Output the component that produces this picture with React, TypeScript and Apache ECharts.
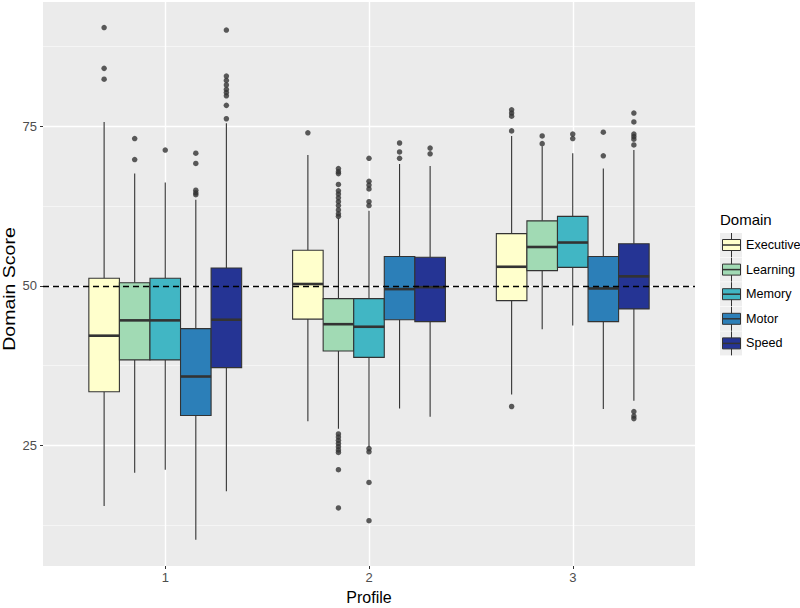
import React, { useEffect, useRef } from "react";
import * as echarts from "echarts";

const profiles = ["1", "2", "3"];
const domains = ["Executive", "Learning", "Memory", "Motor", "Speed"];
const domainColors = ["#FFFFCC", "#A1DAB4", "#41B6C4", "#2C7FB8", "#253494"];

// [lower whisker, Q1, median, Q3, upper whisker] per profile
const executiveBox = [
  [15.5, 33.4, 42.2, 51.2, 75.7],
  [28.8, 44.8, 50.3, 55.6, 70.5],
  [33.0, 47.7, 53.0, 58.2, 73.5],
];
const learningBox = [
  [20.7, 38.4, 44.6, 50.5, 67.6],
  [27.6, 39.8, 44.0, 48.0, 60.6],
  [43.2, 52.4, 56.1, 60.2, 71.9],
];
const memoryBox = [
  [21.2, 38.4, 44.6, 51.2, 66.2],
  [24.8, 38.8, 43.6, 48.0, 61.8],
  [43.8, 52.9, 56.8, 60.9, 70.8],
];
const motorBox = [
  [10.2, 29.7, 35.8, 43.3, 63.5],
  [30.8, 44.7, 49.5, 54.6, 69.1],
  [30.7, 44.4, 49.6, 54.6, 68.4],
];
const speedBox = [
  [17.8, 37.2, 44.7, 52.8, 75.5],
  [29.5, 44.4, 49.8, 54.5, 68.8],
  [32.0, 46.4, 51.5, 56.6, 71.3],
];

// outliers per profile
const executiveOutliers = [
  [90.5, 84.1, 82.4],
  [74.0],
  [77.6, 77.1, 76.6, 74.3, 31.1],
];
const learningOutliers = [
  [73.1, 69.8],
  [68.4, 67.9, 67.6, 65.9, 64.9, 64.4, 63.8, 63.2, 62.6, 61.9, 61.3, 60.9, 26.8, 26.3, 25.8, 25.3, 24.8, 24.3, 23.9, 21.2, 15.2],
  [73.5, 72.3],
];
const memoryOutliers = [
  [71.3],
  [70.0, 66.4, 65.8, 65.2, 63.2, 62.6, 24.5, 24.0, 19.2, 13.2],
  [73.8, 73.1],
];
const motorOutliers = [
  [70.8, 69.2, 65.0, 64.6, 64.3],
  [72.4, 71.0, 70.0],
  [74.1, 70.4],
];
const speedOutliers = [
  [90.1, 82.9, 82.2, 81.5, 80.8, 80.3, 79.8, 78.3, 76.2],
  [71.6, 70.7],
  [77.1, 75.7, 73.8, 73.4, 73.0, 72.1, 30.3, 29.6, 29.2],
];

const referenceScore = 50;
const yMajorTicks = [25, 50, 75];
const yMinorTicks = [12.5, 37.5, 62.5, 87.5];
const xTitle = "Profile";
const yTitle = "Domain Score";
const legendTitle = "Domain";

const boxes = [executiveBox, learningBox, memoryBox, motorBox, speedBox];
const outliers = [executiveOutliers, learningOutliers, memoryOutliers, motorOutliers, speedOutliers];

const FONT = "'Liberation Sans', Arial, sans-serif";
const DODGE = 0.75 / domains.length;

function xPos(p: number, d: number) {
  return p + 1 + (d - (domains.length - 1) / 2) * DODGE;
}

export default function App() {
  const ref = useRef<HTMLDivElement>(null);

  useEffect(() => {
    if (!ref.current) return;
    const chart = echarts.init(ref.current, null, { renderer: "svg" });

    const series: any[] = [];
    domains.forEach((name, d) => {
      series.push({
        type: "custom",
        name,
        xAxisIndex: 0,
        yAxisIndex: 0,
        z: 3,
        encode: { x: 0, y: [1, 2, 3, 4, 5] },
        data: boxes[d].map((b, p) => [xPos(p, d), ...b]),
        renderItem: (params: any, api: any) => {
          const x = api.value(0);
          const lo = api.coord([x, api.value(1)]);
          const q1 = api.coord([x, api.value(2)]);
          const med = api.coord([x, api.value(3)]);
          const q3 = api.coord([x, api.value(4)]);
          const hi = api.coord([x, api.value(5)]);
          const w = api.size([DODGE, 0])[0];
          const lineStyle = { stroke: "#333333", lineWidth: 1.1 };
          return {
            type: "group",
            children: [
              { type: "line", shape: { x1: hi[0], y1: hi[1], x2: q3[0], y2: q3[1] }, style: lineStyle },
              { type: "line", shape: { x1: q1[0], y1: q1[1], x2: lo[0], y2: lo[1] }, style: lineStyle },
              {
                type: "rect",
                shape: { x: q3[0] - w / 2, y: q3[1], width: w, height: q1[1] - q3[1] },
                style: { fill: domainColors[d], stroke: "#333333", lineWidth: 1.1 },
              },
              {
                type: "line",
                shape: { x1: med[0] - w / 2, y1: med[1], x2: med[0] + w / 2, y2: med[1] },
                style: { stroke: "#333333", lineWidth: 2.6 },
              },
            ],
          };
        },
      });
      const pts: number[][] = [];
      outliers[d].forEach((vals, p) => vals.forEach((v) => pts.push([xPos(p, d), v])));
      series.push({
        type: "scatter",
        name: name + " outliers",
        z: 4,
        symbol: "circle",
        symbolSize: 5.5,
        itemStyle: { color: "#333333" },
        data: pts,
      });
    });

    series.push({
      type: "scatter",
      name: "reference",
      data: [],
      z: 10,
      markLine: {
        silent: true,
        symbol: "none",
        label: { show: false },
        lineStyle: { color: "#000000", type: [6, 4], width: 1.3 },
        data: [{ yAxis: referenceScore }],
      },
    });

    const graphics: any[] = [
      {
        type: "text",
        x: 10,
        y: 289,
        rotation: Math.PI / 2,
        scaleX: 1.22,
        style: {
          text: yTitle,
          font: `16px ${FONT}`,
          fill: "#000000",
          align: "center",
          verticalAlign: "middle",
        },
      },
      {
        type: "text",
        left: 720,
        top: 212,
        style: { text: legendTitle, font: `15px ${FONT}`, fill: "#000000" },
      },
    ];
    domains.forEach((name, i) => {
      const cy = 245 + i * 24.6;
      graphics.push(
        { type: "rect", shape: { x: 720, y: cy - 12, width: 22, height: 24 }, style: { fill: "#EEEEEE" } },
        { type: "line", shape: { x1: 731.5, y1: cy - 12, x2: 731.5, y2: cy + 12 }, style: { stroke: "#333333", lineWidth: 1 } },
        { type: "rect", shape: { x: 722.5, y: cy - 5.5, width: 18, height: 11 }, style: { fill: domainColors[i], stroke: "#333333", lineWidth: 1 } },
        { type: "line", shape: { x1: 722.5, y1: cy, x2: 740.5, y2: cy }, style: { stroke: "#333333", lineWidth: 1.5 } },
        {
          type: "text",
          x: 746,
          y: cy,
          style: { text: name, font: `12.6px ${FONT}`, fill: "#000000", verticalAlign: "middle" },
        }
      );
    });

    chart.setOption({
      animation: false,
      backgroundColor: "#FFFFFF",
      textStyle: { fontFamily: FONT },
      grid: {
        left: 43,
        right: 105,
        top: 2,
        bottom: 42,
        show: true,
        backgroundColor: "#EBEBEB",
        borderWidth: 0,
        containLabel: false,
        outerBoundsMode: "none",
      },
      xAxis: {
        type: "value",
        min: 0.4,
        max: 3.6,
        name: xTitle,
        nameLocation: "middle",
        nameGap: 23,
        nameTextStyle: { fontSize: 16, color: "#000000", fontFamily: FONT },
        axisLine: { show: false },
        axisTick: { show: true, length: 3, lineStyle: { color: "#333333" }, customValues: [1, 2, 3] },
        axisLabel: {
          color: "#4D4D4D",
          fontSize: 13,
          margin: 5,
          customValues: [1, 2, 3],
          formatter: (v: number) => profiles[Math.round(v) - 1] ?? "",
        },
        splitLine: { show: true, lineStyle: { color: "#FFFFFF", width: 1.4 } },
      },
      yAxis: [
        {
          type: "value",
          min: 6.1,
          max: 94.5,
          axisLine: { show: false },
          axisTick: { show: true, length: 3, lineStyle: { color: "#333333" }, customValues: yMajorTicks },
          axisLabel: { color: "#4D4D4D", fontSize: 13, margin: 6, customValues: yMajorTicks },
          splitLine: { show: true, lineStyle: { color: "#FFFFFF", width: 1.4 } },
        },
        {
          type: "value",
          min: 6.1,
          max: 94.5,
          axisLine: { show: false },
          axisTick: { show: false, customValues: yMinorTicks },
          axisLabel: { show: false, customValues: yMinorTicks },
          splitLine: { show: true, lineStyle: { color: "#F7F7F7", width: 0.8 } },
        },
      ],
      graphic: graphics,
      series,
    });

    return () => chart.dispose();
  }, []);

  return (
    <div
      ref={ref}
      style={{ position: "fixed", left: 0, top: 0, width: 800, height: 608 }}
    />
  );
}
